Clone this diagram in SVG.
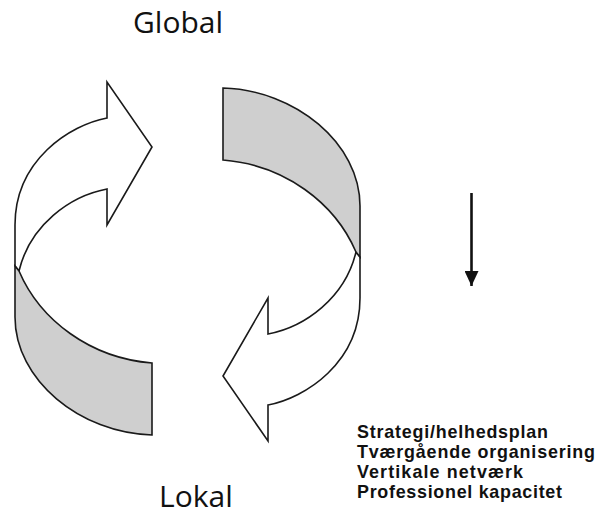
<svg xmlns="http://www.w3.org/2000/svg" width="601" height="509" viewBox="0 0 601 509">
<style>
.w{fill:#ffffff;stroke:#1a1a1a;stroke-width:1.6;stroke-linejoin:miter}
.g{fill:#cfcfcf;stroke:#1a1a1a;stroke-width:1.6;stroke-linejoin:miter}
.big{font-family:"Open Sans","Noto Sans",sans-serif;font-size:30px;fill:#111}
.list{font-family:"Liberation Sans",Arial,sans-serif;font-size:17.9px;font-weight:bold;fill:#111}
</style>
<defs>
<marker id="head" viewBox="0 0 15 14" refX="15" refY="7" markerWidth="15" markerHeight="14" markerUnits="userSpaceOnUse" orient="auto">
<path d="M0,0 L15,7 L0,14 Z" fill="#111"/>
</marker>
<g id="half">
<path class="w" d="M107,118 L107,82 L152,147 L107,225 L107,189 C70,196 30,225 19,271 L15,266 L15,225 C15,160 70,125 107,118 Z"/>
<path class="g" d="M15,266 L15,317 C15,380 80,433 152,435 L152,363 C90,358 40,320 19,271 Z"/>
</g>
</defs>
<g id="left-arrow"><use href="#half"/></g>
<g id="right-arrow"><use href="#half" transform="rotate(180 187.5 261.5)"/></g>
<g id="connectors">
<line x1="471.5" y1="193" x2="471.5" y2="286" stroke="#111" stroke-width="2.6" marker-end="url(#head)"/>
</g>
<g id="label-global"><text class="big" x="133" y="33">Global</text></g>
<g id="label-lokal"><text class="big" x="159" y="507">Lokal</text></g>
<g id="list">
<text class="list" x="357" y="438" textLength="191" lengthAdjust="spacing">Strategi/helhedsplan</text>
<text class="list" x="357" y="458" textLength="238" lengthAdjust="spacing">Tværgående organisering</text>
<text class="list" x="357" y="478" textLength="166" lengthAdjust="spacing">Vertikale netværk</text>
<text class="list" x="357" y="498" textLength="205" lengthAdjust="spacing">Professionel kapacitet</text>
</g>
</svg>
